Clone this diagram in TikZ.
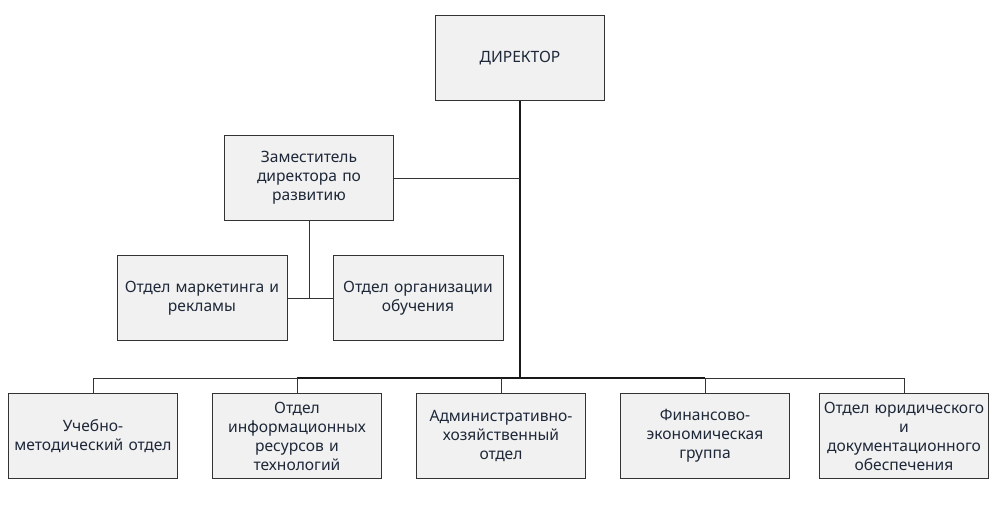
\documentclass[tikz,border=0pt]{standalone}
\usepackage{fontspec}
\setmainfont{Noto Sans}
\definecolor{boxfill}{HTML}{F1F1F1}
\definecolor{boxline}{HTML}{333333}
\definecolor{txt}{HTML}{1E2838}
\tikzset{
  unit/.style={draw=boxline, fill=boxfill, line width=0.9pt, text=txt,
    minimum width=170pt, minimum height=85pt, text width=167pt, align=center,
    inner sep=1pt, font=\fontsize{15.6}{19}\selectfont},
  link/.style={draw=boxline, line width=0.9pt},
  trunk/.style={draw=black!90, line width=2pt}
}
\begin{document}
\begin{tikzpicture}[x=1pt, y=-1pt]
\useasboundingbox (0,0) rectangle (996,508);
% top
\node[unit, minimum width=168pt] (dir) at (520,58) {ДИРЕКТОР};
\node[unit, minimum width=168pt] (dep) at (309,178) {Заместитель\\директора по\\развитию};
\node[unit] (mark) at (202,298) {Отдел маркетинга и\\рекламы};
\node[unit] (edu) at (418,298) {Отдел организации\\обучения};
% bottom row
\node[unit, minimum width=168pt] (umo) at (93,436) {Учебно-\\методический отдел};
\node[unit, minimum width=168pt] (info) at (297,436) {Отдел\\информационных\\ресурсов и\\технологий};
\node[unit, minimum width=168pt] (adm) at (501,436) {Административно-\\хозяйственный\\отдел};
\node[unit, minimum width=168pt] (fin) at (705,436) {Финансово-\\экономическая\\группа};
\node[unit, minimum width=166pt] (jur) at (904,436) {Отдел юридического\\и\\документационного\\обеспечения};

\coordinate (bus) at (520,378);
\draw[link] (umo.north) |- (bus);
\draw[link] (jur.north) |- (bus);
\draw[trunk] (info.north |- bus) -- (fin.north |- bus);
\draw[link] (info.north) -- (info.north |- bus);
\draw[link] (adm.north) -- (adm.north |- bus);
\draw[link] (fin.north) -- (fin.north |- bus);
\draw[trunk] (dir.south) -- (bus);
\draw[link] (dep.east) -- (dep.east -| dir.south);
\draw[link] (dep.south) -- (dep.south |- mark.east);
\draw[link] (mark.east) -- (edu.west);
\end{tikzpicture}
\end{document}
